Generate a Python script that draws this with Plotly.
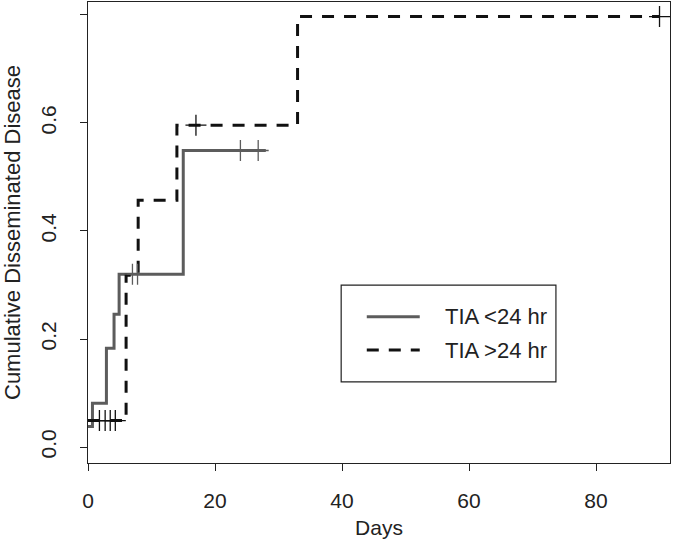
import plotly.graph_objects as go

# TIA < 24 hr (solid) - cumulative incidence steps
lt24_days = [0, 0.7, 2.9, 4.1, 4.9, 15, 28]
lt24_cum = [0.038, 0.081, 0.183, 0.246, 0.32, 0.549, 0.549]
lt24_cens_days = [7, 7.8, 24, 26.8]
lt24_cens_cum = [0.32, 0.32, 0.549, 0.549]

# TIA > 24 hr (dashed)
gt24_days = [0, 6, 7.9, 14, 33, 90]
gt24_cum = [0.049, 0.318, 0.457, 0.596, 0.797, 0.797]
gt24_cens_days = [1.8, 2.7, 3.5, 4.3, 17, 90]
gt24_cens_cum = [0.049, 0.049, 0.049, 0.049, 0.596, 0.797]

series_names = ["TIA <24 hr", "TIA >24 hr"]
x_ticks = [0, 20, 40, 60, 80]
y_ticks = [0.0, 0.2, 0.4, 0.6, 0.8]

GREY = "#5c5c5c"
BLACK = "#111111"
FONT = "Liberation Sans, Arial, sans-serif"

fig = go.Figure()

fig.add_trace(go.Scatter(x=lt24_days, y=lt24_cum, mode="lines", line_shape="hv",
                         line=dict(color=GREY, width=3), name=series_names[0]))
fig.add_trace(go.Scatter(x=gt24_days, y=gt24_cum, mode="lines", line_shape="hv",
                         line=dict(color=BLACK, width=3, dash="12px,10px"), name=series_names[1]))

# censoring marks (+)
fig.add_trace(go.Scatter(x=lt24_cens_days, y=lt24_cens_cum, mode="markers",
                         marker=dict(symbol="cross-thin", size=15, line=dict(color=GREY, width=1.3))))
fig.add_trace(go.Scatter(x=gt24_cens_days, y=gt24_cens_cum, mode="markers",
                         marker=dict(symbol="cross-thin", size=15, line=dict(color=BLACK, width=1.3))))

# legend drawn as a boxed key like the R original
fig.add_shape(type="rect", xref="paper", yref="paper", x0=0.435, x1=0.804, y0=0.176, y1=0.386,
              line=dict(color="#222222", width=1.2), fillcolor="white")
legend_y = [0.317, 0.245]
legend_style = [dict(color=GREY, width=3), dict(color=BLACK, width=3, dash="12px,10px")]
for name, yy, st in zip(series_names, legend_y, legend_style):
    fig.add_shape(type="line", xref="paper", yref="paper", x0=0.479, x1=0.570, y0=yy, y1=yy, line=st)
    fig.add_annotation(xref="paper", yref="paper", x=0.61, y=yy, text=name, showarrow=False,
                       xanchor="left", yanchor="middle", font=dict(size=22, color="#222222"))

fig.update_xaxes(range=[0, 91.65], tickvals=x_ticks, ticks="outside", ticklen=7, tickcolor="#222222",
                 showline=True, mirror=True, linecolor="#222222", linewidth=1, showgrid=False,
                 zeroline=False, tickfont=dict(size=21, color="#222222"), ticklabelstandoff=12,
                 automargin=False,
                 title=dict(text="Days", font=dict(size=21, color="#222222"), standoff=9))
fig.update_yaxes(range=[-0.0296, 0.824], tickvals=y_ticks, ticktext=[f"{v:.1f}" for v in y_ticks],
                 tickangle=-90, ticks="outside", ticklen=7, tickcolor="#222222",
                 showline=True, mirror=True, linecolor="#222222", linewidth=1, showgrid=False,
                 zeroline=False, tickfont=dict(size=21, color="#222222"), ticklabelstandoff=16,
                 automargin=False,
                 title=dict(text="Cumulative Disseminated Disease", font=dict(size=22, color="#222222"),
                            standoff=10))

fig.update_layout(width=680, height=540, margin=dict(l=88, r=10, t=2, b=77),
                  plot_bgcolor="white", paper_bgcolor="white", showlegend=False,
                  font=dict(family=FONT))

# drop the browser's default body margin so the figure sits at the page corner
fig.write_html("out.html", config={"displayModeBar": False},
               post_script="document.body.style.margin='0px';")
